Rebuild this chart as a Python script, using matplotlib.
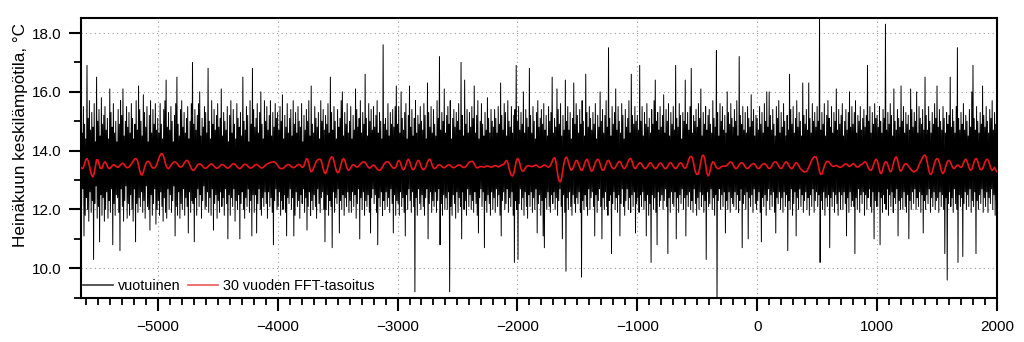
import numpy as np
import matplotlib
matplotlib.use("Agg")
import matplotlib.pyplot as plt
from matplotlib.ticker import MultipleLocator, FormatStrFormatter
from matplotlib.lines import Line2D

# ---------------- DATA ----------------
# Annual July mean temperature (tenths of degC), read every 5 years,
# one list per block; each block starts at the year given in annual_starts.
annual_starts = [-5640, -5000, -4000, -3000, -2000, -1000, 0, 1000]

annual_m5640 = [
    152,121, 146,127, 155,111, 149,118, 144,124, 169,120, 151,116, 157,126, 147,119, 153,123,
    148,103, 156,122, 143,128, 165,117, 150,121, 154,109, 145,125, 158,118, 149,124, 152,116,
    155,120, 147,126, 151,117, 144,123, 161,119, 153,127, 148,108, 156,122, 146,118, 150,125,
    143,124, 154,119, 149,106, 157,127, 152,121, 161,116, 145,123, 150,128, 155,117, 148,122,
    153,118, 146,125, 156,120, 151,116, 144,127, 149,109, 157,122, 147,119, 162,124, 154,121,
    150,126, 145,119, 159,123, 153,117, 148,128, 155,121, 143,120, 152,113, 157,125, 146,118,
    154,122, 149,127, 156,115, 147,120]

annual_m5000 = [
    151,123, 146,118, 156,126, 149,121, 144,116, 154,124, 157,119, 164,117, 148,127, 153,120,
    147,125, 155,119, 150,123, 143,128, 152,111, 156,121, 165,118, 149,126, 145,117, 154,122,
    157,120, 148,127, 153,118, 146,124, 151,121, 155,112, 144,126, 150,119, 156,123, 170,122,
    149,109, 154,124, 147,118, 152,127, 156,121, 160,125, 145,117, 151,123, 148,128, 155,120,
    153,121, 146,126, 168,119, 150,124, 144,118, 157,127, 149,113, 154,122, 147,125, 152,117,
    156,123, 148,119, 151,126, 161,121, 145,124, 153,118, 150,127, 147,122, 155,110, 143,125,
    152,118, 157,124, 146,121, 154,127, 149,116, 144,123, 156,120, 151,125, 148,110, 153,122,
    145,126, 165,120, 150,117, 147,124, 155,121, 152,127, 143,119, 157,123, 149,111, 168,125,
    154,119, 148,125, 151,112, 156,122, 146,127, 153,120, 160,118, 149,124, 144,121, 157,126,
    150,122, 155,117, 147,126, 152,121, 157,124, 145,119, 153,108, 148,123, 156,127, 151,120]

annual_m4000 = [
    153,121, 147,126, 155,118, 150,123, 159,120, 144,125, 152,119, 148,111, 156,124, 146,122,
    151,127, 154,120, 145,124, 157,111, 149,118, 153,126, 146,121, 155,123, 150,117, 148,125,
    156,122, 143,127, 152,119, 147,124, 154,113, 150,121, 157,126, 145,118, 162,123, 149,120,
    146,125, 155,121, 151,117, 148,127, 153,122, 144,119, 157,124, 150,126, 154,120, 147,109,
    152,120, 149,125, 156,118, 146,123, 165,121, 153,107, 147,126, 155,119, 150,124, 144,122,
    154,127, 148,112, 151,123, 157,120, 160,125, 145,118, 153,124, 149,121, 156,126, 146,119,
    150,123, 155,119, 144,126, 152,121, 147,125, 161,117, 154,122, 148,127, 151,110, 157,124,
    146,120, 153,126, 149,118, 166,123, 151,121, 145,125, 156,119, 150,112, 154,124, 147,127,
    155,122, 148,125, 152,119, 157,108, 146,124, 153,121, 150,126, 144,118, 176,123, 149,120,
    151,126, 147,121, 156,124, 145,119, 153,127, 149,122, 154,112, 148,125, 155,118, 162,123]

annual_m3000 = [
    149,122, 155,118, 146,126, 160,121, 151,124, 147,119, 153,111, 156,125, 144,120, 152,127,
    162,123, 148,119, 154,126, 145,121, 151,92, 157,124, 146,118, 152,127, 149,122, 155,120,
    150,125, 147,121, 156,118, 152,124, 144,127, 163,110, 153,122, 148,126, 155,119, 146,123,
    154,121, 149,126, 145,119, 157,123, 151,127, 172,108, 147,122, 153,118, 150,125, 161,120,
    146,124, 152,120, 155,126, 149,92, 157,121, 144,118, 151,125, 154,122, 148,117, 153,126,
    150,119, 156,124, 147,121, 170,110, 152,126, 145,120, 164,123, 149,118, 154,127, 146,121,
    153,125, 148,120, 155,123, 151,119, 162,126, 146,122, 152,118, 157,112, 144,124, 150,127,
    156,121, 149,126, 145,107, 153,123, 147,119, 158,125, 151,122, 146,118, 154,126, 150,120,
    148,124, 154,119, 151,127, 146,121, 155,125, 149,118, 163,111, 152,123, 147,126, 156,120,
    153,122, 145,127, 157,119, 150,124, 148,121, 155,126, 146,118, 152,102, 154,123, 169,120]

annual_m2000 = [
    150,103, 155,122, 147,127, 153,120, 149,124, 160,118, 146,126, 154,121, 151,117, 148,125,
    168,121, 152,126, 146,119, 155,124, 150,120, 144,127, 153,112, 157,122, 148,125, 151,118,
    154,123, 149,111, 156,107, 147,124, 152,120, 145,126, 155,121, 150,119, 153,125, 165,122,
    146,126, 151,120, 148,124, 161,118, 154,123, 149,127, 156,121, 145,110, 152,125, 147,119,
    164,99, 150,124, 155,120, 147,126, 153,121, 144,118, 151,125, 163,122, 149,119, 156,124,
    152,122, 146,126, 154,119, 149,97, 157,123, 150,120, 145,125, 166,121, 153,118, 148,127,
    155,120, 151,124, 147,126, 153,121, 149,111, 156,125, 144,119, 152,123, 148,127, 160,121,
    150,110, 154,124, 146,120, 152,126, 157,121, 148,118, 175,123, 151,125, 145,105, 155,122,
    149,126, 153,120, 161,124, 147,119, 155,125, 150,111, 146,122, 156,127, 152,121, 144,118,
    154,123, 148,127, 151,120, 157,124, 146,119, 166,125, 152,121, 149,126, 155,112, 150,122]

annual_m1000 = [
    152,124, 147,119, 169,125, 150,121, 155,126, 145,120, 153,123, 149,111, 156,125, 148,118,
    151,122, 146,102, 154,125, 149,120, 157,124, 164,119, 150,108, 153,126, 147,121, 155,123,
    148,125, 152,120, 159,123, 146,127, 154,121, 150,105, 156,124, 145,119, 153,126, 149,122,
    155,121, 147,126, 169,110, 151,124, 148,119, 156,125, 152,122, 144,127, 153,120, 150,124,
    164,111, 149,125, 153,121, 147,126, 155,120, 168,123, 146,119, 152,127, 150,122, 154,118,
    148,124, 156,120, 151,126, 161,121, 145,125, 153,119, 149,123, 155,103, 147,126, 152,121,
    154,122, 149,127, 146,120, 157,124, 151,118, 148,125, 174,88, 153,123, 145,127, 156,120,
    150,125, 155,121, 147,126, 152,112, 146,123, 160,120, 153,126, 149,119, 156,124, 151,122,
    148,121, 154,126, 150,120, 157,125, 145,119, 172,123, 152,127, 149,107, 155,122, 147,125,
    153,120, 146,126, 155,110, 151,124, 148,121, 159,125, 150,119, 154,127, 145,122, 152,120]

annual_0 = [
    151,123, 147,126, 155,119, 149,109, 153,124, 146,121, 156,125, 150,118, 160,123, 148,127,
    160,120, 152,125, 147,121, 154,126, 149,119, 145,112, 155,124, 151,122, 157,126, 146,120,
    153,124, 148,119, 156,126, 150,121, 145,125, 152,106, 147,123, 166,120, 154,127, 149,118,
    155,122, 146,126, 151,111, 157,124, 148,120, 153,127, 150,121, 145,125, 163,119, 152,123,
    149,126, 154,120, 147,124, 163,118, 151,125, 146,121, 156,127, 150,119, 153,123, 148,126,
    155,121, 150,125, 188,102, 147,123, 153,120, 149,126, 156,118, 145,124, 152,121, 157,125,
    151,107, 148,124, 155,121, 146,126, 153,119, 150,125, 161,122, 147,118, 154,126, 149,120,
    152,125, 156,120, 145,126, 150,122, 154,111, 147,124, 153,119, 160,126, 148,121, 155,123,
    149,121, 153,105, 157,124, 146,120, 152,127, 150,119, 155,125, 147,122, 151,126, 154,118,
    148,125, 152,120, 169,124, 150,127, 155,121, 146,119, 153,126, 149,110, 156,123, 151,121]

annual_1000 = [
    152,121, 148,126, 155,108, 150,124, 146,119, 154,125, 151,122, 183,120, 147,127, 153,118,
    149,125, 156,121, 152,126, 145,119, 161,124, 150,122, 147,127, 154,111, 151,123, 148,120,
    162,124, 150,120, 155,126, 146,121, 153,119, 149,125, 152,110, 147,123, 161,120, 154,126,
    148,122, 153,127, 150,120, 160,124, 146,121, 155,126, 151,119, 149,125, 154,112, 147,123,
    165,120, 152,125, 147,122, 155,127, 150,119, 146,124, 153,121, 149,126, 156,120, 151,123,
    162,124, 148,119, 154,126, 150,121, 147,125, 155,120, 151,105, 146,124, 153,96, 149,122,
    152,126, 165,121, 148,124, 154,119, 150,127, 146,122, 155,120, 175,102, 151,125, 147,121,
    153,124, 149,104, 156,122, 147,126, 152,120, 150,125, 145,121, 154,127, 148,119, 160,123,
    169,121, 151,126, 147,105, 155,123, 150,120, 146,125, 153,122, 149,127, 162,119, 152,124,
    148,121, 155,126, 150,119, 146,124, 154,122, 151,127, 157,120, 147,125, 153,118, 149,123,
    150]

annual_step = 5

# 30-year FFT smoothing: deviations from red_base (hundredths of degC), every 10 years
red_base = 13.47
red_step = 10
red_starts = [-5640, -5000, -4000, -3000, -2000, -1000, 0, 1000]

red_m5640 = [-5,-8,-5,8,22,26,18,2,-18,-32, -36,-24,0,22,22,8,-6,-8,-2,10,
             15,10,0,-7,-8,-4,2,5,4,0, -3,-4,0,5,9,10,6,0,-4,-5,
             -3,2,8,14,20,25,26,20,4,-16, -28,-30,-20,-4,8,15,17,14,6,-2,
             -6,-6,-4,4]
red_m5000 = [16,28,38,43,42,32,16,2,-6,-8, -4,3,9,13,15,14,10,4,-1,-3,
             -2,3,10,16,20,19,12,2,-8,-13, -14,-10,-3,3,7,8,6,2,-3,-6,
             -7,-5,-1,4,7,8,5,0,-4,-7, -6,-3,1,5,6,4,0,-4,-6,-6,
             -3,2,6,9,8,4,-1,-5,-8,-7, -3,2,6,7,5,1,-3,-6,-6,-3,
             1,4,6,5,2,-2,-5,-6,-4,0, 4,7,9,11,13,14,15,15,13,9]
red_m4000 = [3,-3,-7,-8,-8,-6,-2,2,5,6, 4,0,-3,-5,-4,-1,3,6,6,3,
             -2,-4,2,14,26,24,8,-10,-19,-16, -6,4,14,20,23,24,22,10,-8,-22,
             -25,-16,0,16,27,32,30,18,0,-16, -22,-20,-8,8,22,26,20,6,-8,-14,
             -12,-5,2,5,4,0,-3,-2,2,7, 11,14,15,13,7,0,-5,-6,-3,2,
             4,2,-4,-10,-13,-14,-12,-6,2,9, 13,15,15,12,6,0,-5,-7,-5,-1]
red_m3000 = [14,20,16,4,-8,-12,-8,4,18,24, 18,4,-8,-12,-9,0,12,20,18,8,
             -4,-10,-12,-8,2,14,22,24,16,3, -6,-8,-5,0,4,5,3,-1,-4,-5,
             -3,1,4,5,3,-1,-4,-5,-3,0, 3,5,4,1,-2,-4,-4,-1,4,10,
             15,15,17,15,8,0,-5,-5,-3,-1, -1,-2,-3,-2,0,1,0,-2,-3,-2,
             0,2,2,0,-2,-1,2,5,5,8, 16,20,12,-6,-22,-31,-33,-24,-4,16]
red_m2000 = [26,24,10,-8,-16,-17,-10,-3,1,2, 1,0,-1,0,2,4,3,0,-3,-4,
             -2,1,4,4,1,-2,-3,0,6,16, 26,29,18,-10,-38,-52,-53,-38,-10,14,
             28,31,22,6,-8,-14,-10,0,12,20, 18,8,-4,-13,-14,-6,8,20,24,16,
             2,-12,-17,-12,0,12,20,24,20,8, -6,-14,-13,-4,8,18,20,14,3,-5,
             -8,-8,-2,6,13,17,14,5,-4,-8, -6,2,12,22,26,24,12,-2,-8,-6]
red_m1000 = [2,8,12,11,5,-2,-7,-8,-4,3, 10,12,8,1,-5,-8,-6,0,7,11,
             10,4,-3,-8,-8,-3,5,11,12,7, 0,-6,-8,-5,2,9,12,9,2,-5,
             -7,-2,10,24,32,33,28,10,-12,-25, -28,-26,-8,16,34,38,30,6,-22,-33,
             -28,-10,8,15,13,4,-4,-8,-8,-6, -2,0,1,0,1,4,9,13,15,12,
             4,-4,-8,-7,-2,5,10,12,11,5, -2,-7,-8,-5,0,5,8,9,6,0]
red_0 = [-6,-8,-6,0,5,8,9,7,1,-5, -8,-6,0,8,13,15,14,8,0,-6,
         -8,-4,4,11,15,13,6,-2,-7,-8, -3,5,11,12,7,-1,-8,-12,-16,-19,
         -19,-18,-12,-4,6,16,24,30,32,32, 22,2,-18,-28,-26,-14,0,10,16,17,
         14,8,3,0,0,1,3,1,-2,-4, -3,0,4,7,8,6,2,-1,2,6,
         9,7,2,-2,-3,0,4,6,8,12, 15,12,2,-8,-13,-14,-8,4,16,24]
red_1000 = [20,6,-14,-25,-22,-6,8,15,14,4, -10,-19,-16,-2,16,28,32,22,2,-14,
            -17,-10,0,7,9,7,2,-4,-10,-15, -18,-19,-16,
            -14,-6,4,14,22,30,36,38,30,10, -12,-25,-28,-20,-4,12,22,26,24,12,
            -6,-20,-25,-18,-4,10,18,20,15,5,
            -4,-8,-6,0,4,3,-2,-4,0,10, 20,24,18,4,-8,-14,-10,2,16,25,
            26,16,0,-10,-12,-8,2,14,22,24, 18,4,-8,-14,-10,-4,-12,-19]

x_ticks = [-5000, -4000, -3000, -2000, -1000, 0, 1000, 2000]
y_ticks = [10.0, 12.0, 14.0, 16.0, 18.0]
ylabel = "Heinäkuun keskilämpötila, °C"
label_annual = "vuotuinen"
label_fft = "30 vuoden FFT-tasoitus"

# ---------------- BUILD SERIES ----------------
annual_blocks = [annual_m5640, annual_m5000, annual_m4000, annual_m3000,
                 annual_m2000, annual_m1000, annual_0, annual_1000]
yrs, tmp = [], []
for s, b in zip(annual_starts, annual_blocks):
    yrs.append(s + annual_step * np.arange(len(b)))
    tmp.append(np.array(b, dtype=float) / 10.0)
years = np.concatenate(yrs)
temps = np.concatenate(tmp)

red_blocks = [red_m5640, red_m5000, red_m4000, red_m3000,
              red_m2000, red_m1000, red_0, red_1000]
ryrs, rtmp = [], []
for s, b in zip(red_starts, red_blocks):
    ryrs.append(s + red_step * np.arange(len(b)))
    rtmp.append(red_base + np.array(b, dtype=float) / 100.0)
red_years = np.concatenate(ryrs)
red_temps = np.concatenate(rtmp)

# ---------------- PLOT ----------------
plt.rcParams['font.family'] = ['Liberation Sans', 'DejaVu Sans']

fig = plt.figure(figsize=(10.24, 3.42), dpi=100)
ax = fig.add_axes([0.0791, 0.1295, 0.8945, 0.8187])

ax.plot(years, temps, color='black', lw=0.7, zorder=2)
ax.plot(red_years, red_temps, color='#e8141c', lw=1.2, zorder=3)

ax.set_xlim(-5640, 2000)
ax.set_ylim(9.0, 18.52)

ax.xaxis.set_major_locator(plt.FixedLocator(x_ticks))
ax.xaxis.set_minor_locator(MultipleLocator(100))
ax.yaxis.set_major_locator(plt.FixedLocator(y_ticks))
ax.yaxis.set_minor_locator(MultipleLocator(1.0))
ax.yaxis.set_major_formatter(FormatStrFormatter('%.1f'))

ax.tick_params(axis='both', which='major', direction='out', length=9, width=1.5,
               labelsize=11, color='black')
ax.tick_params(axis='both', which='minor', direction='out', length=5, width=1.3)
ax.tick_params(axis='x', which='major', pad=7)
ax.tick_params(axis='y', which='major', pad=5)
ax.tick_params(top=False, right=False, which='both')

for sp in ax.spines.values():
    sp.set_linewidth(1.5)

ax.grid(True, which='major', color='#9a9a9a', lw=0.8, linestyle=(0, (1, 3)), zorder=1)
ax.set_axisbelow(True)

fig.text(20.7 / 1024, 1 - 134.7 / 342, ylabel, rotation=90, ha='center', va='center',
         fontsize=12.3)

h1 = Line2D([], [], color='#3a3a3a', lw=1.2)
h2 = Line2D([], [], color='#e85a5a', lw=1.2)
leg = ax.legend([h1, h2], [label_annual, label_fft], loc='center left',
                bbox_to_anchor=(0.002, 0.043), ncol=2, frameon=False, fontsize=10.4,
                handlelength=2.1, handletextpad=0.35, columnspacing=0.5,
                borderpad=0, borderaxespad=0)
leg.set_zorder(5)

fig.savefig('out.png', dpi=100)
